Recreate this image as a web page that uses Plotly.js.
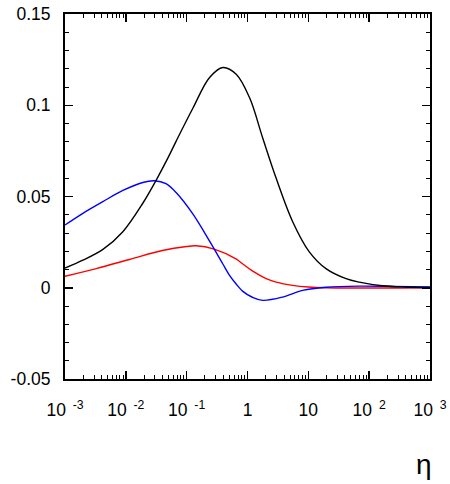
<!DOCTYPE html>
<html>
<head>
<meta charset="utf-8">
<script src="https://cdn.plot.ly/plotly-3.0.1.min.js"></script>
<style>html,body{margin:0;padding:0;background:#fff;}#plot{width:450px;height:484px;}</style>
</head>
<body>
<div id="plot"></div>
<script>
// eta values and curve values
const etaBlack = [0.001, 0.00197, 0.0042, 0.00893, 0.0190, 0.0316, 0.0490, 0.0676, 0.127, 0.238, 0.394, 0.652, 1.079, 1.778, 2.951, 5.53, 10.37, 19.5, 41.7, 68.5, 166, 398, 1000];
const valBlack = [0.0108, 0.0151, 0.021, 0.0307, 0.0463, 0.059, 0.071, 0.0805, 0.0985, 0.1152, 0.1207, 0.117, 0.1042, 0.0821, 0.0601, 0.0362, 0.0197, 0.0105, 0.005, 0.0031, 0.0011, 0.0004, 0.0001];

const etaBlue = [0.001, 0.00197, 0.0042, 0.00893, 0.0190, 0.0295, 0.0457, 0.0676, 0.127, 0.238, 0.389, 0.507, 0.646, 0.838, 1.202, 1.778, 3.78, 8.07, 19.5, 68.5, 251, 1000];
const valBlue = [0.0344, 0.0408, 0.0472, 0.0533, 0.0577, 0.0586, 0.057, 0.052, 0.0403, 0.0255, 0.0133, 0.0068, 0.0022, -0.002, -0.0052, -0.0069, -0.0051, -0.0014, 0.0003, 0.0009, 0.0007, 0.0004];

const etaRed = [0.001, 0.00326, 0.01148, 0.0398, 0.1, 0.1422, 0.2844, 0.6457, 0.8375, 1.202, 2.023, 2.951, 5.53, 10, 19.5, 1000];
const valRed = [0.0063, 0.0105, 0.0155, 0.0204, 0.0226, 0.023, 0.0212, 0.0158, 0.013, 0.0092, 0.005, 0.0031, 0.0013, 0.0004, 0.0, 0.0];

const xTickVals = [0.001, 0.01, 0.1, 1, 10, 100, 1000];
const xTickText = ['10<sup>  -3</sup>', '10<sup>  -2</sup>', '10<sup>  -1</sup>', '1', '10', '10<sup>  2</sup>', '10<sup>  3</sup>'];
const yTickVals = [-0.05, 0, 0.05, 0.1, 0.15];
const yTickText = ['-0.05', '0', '0.05', '0.1', '0.15'];

const xMinor = [];
for (let d = -3; d < 3; d++) {
  for (let m = 2; m <= 9; m++) xMinor.push(m * Math.pow(10, d));
}

const fam = 'Liberation Sans, Arial, sans-serif';

const mk = (x, y, c) => ({x: x, y: y, type: 'scatter', mode: 'lines',
  line: {color: c, width: 1.4, shape: 'spline', smoothing: 1}, hoverinfo: 'skip'});

const data = [mk(etaRed, valRed, '#ff0000'), mk(etaBlue, valBlue, '#0000ff'), mk(etaBlack, valBlack, '#000000')];

const layout = {
  width: 450, height: 484,
  margin: {l: 65, r: 20, t: 14, b: 105, pad: 0},
  paper_bgcolor: '#fff', plot_bgcolor: '#fff',
  showlegend: false,
  font: {family: fam, size: 17, color: '#000'},
  xaxis: {
    type: 'log', range: [-3, 3], autorange: false,
    showgrid: false, zeroline: false,
    showline: true, linecolor: '#000', linewidth: 2, mirror: 'ticks',
    ticks: 'inside', ticklen: 8, tickwidth: 1.5, tickcolor: '#000',
    tickmode: 'array', tickvals: xTickVals, ticktext: xTickText,
    ticklabelstandoff: 14,
    tickfont: {family: fam, size: 17.5, color: '#000'},
    minor: {tickmode: 'array', tickvals: xMinor, ticks: 'inside', ticklen: 4, tickwidth: 1, tickcolor: '#000', showgrid: false}
  },
  yaxis: {
    range: [-0.05, 0.15], autorange: false,
    showgrid: false, zeroline: false,
    showline: true, linecolor: '#000', linewidth: 2, mirror: 'ticks',
    ticks: 'inside', ticklen: 8, tickwidth: 1.5, tickcolor: '#000',
    tickmode: 'array', tickvals: yTickVals, ticktext: yTickText,
    ticklabelstandoff: 9,
    tickfont: {family: fam, size: 17.5, color: '#000'},
    minor: {dtick: 0.01, tick0: 0, ticks: 'inside', ticklen: 4, tickwidth: 1, tickcolor: '#000', showgrid: false}
  },
  annotations: [{
    text: 'η', xref: 'paper', yref: 'paper', x: 0.984, y: -0.233,
    xanchor: 'center', yanchor: 'middle', showarrow: false,
    font: {family: fam, size: 28, color: '#000'}
  }]
};

Plotly.newPlot('plot', data, layout, {staticPlot: true, displayModeBar: false});
</script>
</body>
</html>
